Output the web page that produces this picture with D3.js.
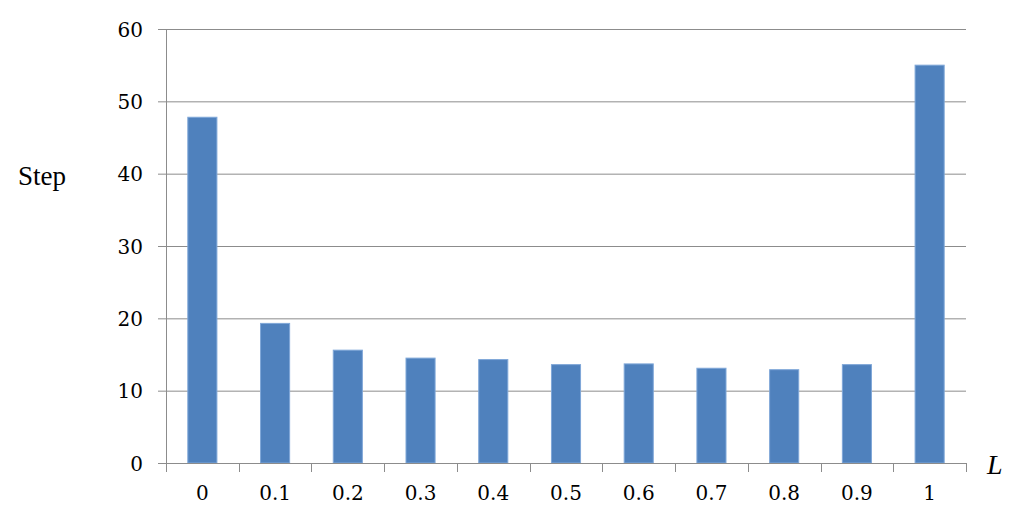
<!DOCTYPE html>
<html>
<head>
<meta charset="utf-8">
<script src="https://cdn.jsdelivr.net/npm/d3@7"></script>
<style>
    body { margin: 0; background: #fff; }
</style>
</head>
<body>
<svg id="chart" width="1024" height="517"></svg>
<script>
var categories = ["0", "0.1", "0.2", "0.3", "0.4", "0.5", "0.6", "0.7", "0.8", "0.9", "1"];
var steps = [47.8, 19.3, 15.6, 14.5, 14.3, 13.6, 13.7, 13.1, 12.9, 13.6, 55];
var yTicks = [0, 10, 20, 30, 40, 50, 60];

var tickFont = "'DejaVu Serif', 'Liberation Serif', serif";
var titleFont = "'Liberation Serif', 'Times New Roman', 'DejaVu Serif', serif";

var svg = d3.select("#chart");
var margin = { top: 29, right: 58, bottom: 54, left: 166 };
var width = 1024 - margin.left - margin.right;
var height = 517 - margin.top - margin.bottom;

var g = svg.append("g")
    .attr("transform", "translate(" + margin.left + "," + margin.top + ")");

var x = d3.scaleBand()
    .domain(categories)
    .range([0, width])
    .paddingInner(0.6)
    .paddingOuter(0.3);

var y = d3.scaleLinear()
    .domain([0, 60])
    .range([height, 0]);

// gridlines
g.selectAll(".grid")
    .data(yTicks)
    .enter().append("line")
    .attr("x1", -8)
    .attr("x2", width)
    .attr("y1", function (d) { return y(d) + 0.5; })
    .attr("y2", function (d) { return y(d) + 0.5; })
    .style("stroke", "#8c8c8c")
    .style("stroke-width", 1);

// y axis
var yAxis = d3.axisLeft(y)
    .tickValues(yTicks)
    .tickSize(0)
    .tickPadding(23);
var gY = g.append("g").call(yAxis)
    .attr("font-family", null).attr("font-size", null);
gY.select(".domain").remove();
gY.selectAll("text")
    .attr("dy", "0.35em")
    .style("font-family", tickFont)
    .style("font-size", "20px")
    .style("fill", "#000");

g.append("line")
    .attr("x1", 0.5).attr("x2", 0.5)
    .attr("y1", 0).attr("y2", height)
    .style("stroke", "#8c8c8c");

// bars
g.selectAll(".bar")
    .data(steps)
    .enter().append("rect")
    .attr("x", function (d, i) { return x(categories[i]); })
    .attr("y", function (d) { return y(d); })
    .attr("width", x.bandwidth())
    .attr("height", function (d) { return height - y(d); })
    .style("fill", "#4f81bd")
    .style("stroke", "#7fa7d8")
    .style("stroke-width", 1);

// x axis: tick marks at category boundaries
var step = width / categories.length;
var bounds = d3.range(categories.length + 1);
g.selectAll(".xtick")
    .data(bounds)
    .enter().append("line")
    .attr("x1", function (d) { return Math.round(d * step) + 0.5; })
    .attr("x2", function (d) { return Math.round(d * step) + 0.5; })
    .attr("y1", height)
    .attr("y2", height + 9)
    .style("stroke", "#8c8c8c");

g.append("line")
    .attr("x1", 0).attr("x2", width)
    .attr("y1", height + 0.5).attr("y2", height + 0.5)
    .style("stroke", "#8c8c8c");

var xAxis = d3.axisBottom(x).tickSize(0).tickPadding(23);
var gX = g.append("g")
    .attr("transform", "translate(0," + height + ")")
    .call(xAxis)
    .attr("font-family", null).attr("font-size", null);
gX.select(".domain").remove();
gX.selectAll("text")
    .style("font-family", tickFont)
    .style("font-size", "20px")
    .style("fill", "#000");

// axis titles
svg.append("text")
    .attr("x", 18)
    .attr("y", 185)
    .style("font-family", titleFont)
    .style("font-size", "27px")
    .text("Step");

svg.append("text")
    .attr("x", 987)
    .attr("y", 474)
    .style("font-family", titleFont)
    .style("font-size", "28px")
    .style("font-style", "italic")
    .text("L");
</script>
</body>
</html>
